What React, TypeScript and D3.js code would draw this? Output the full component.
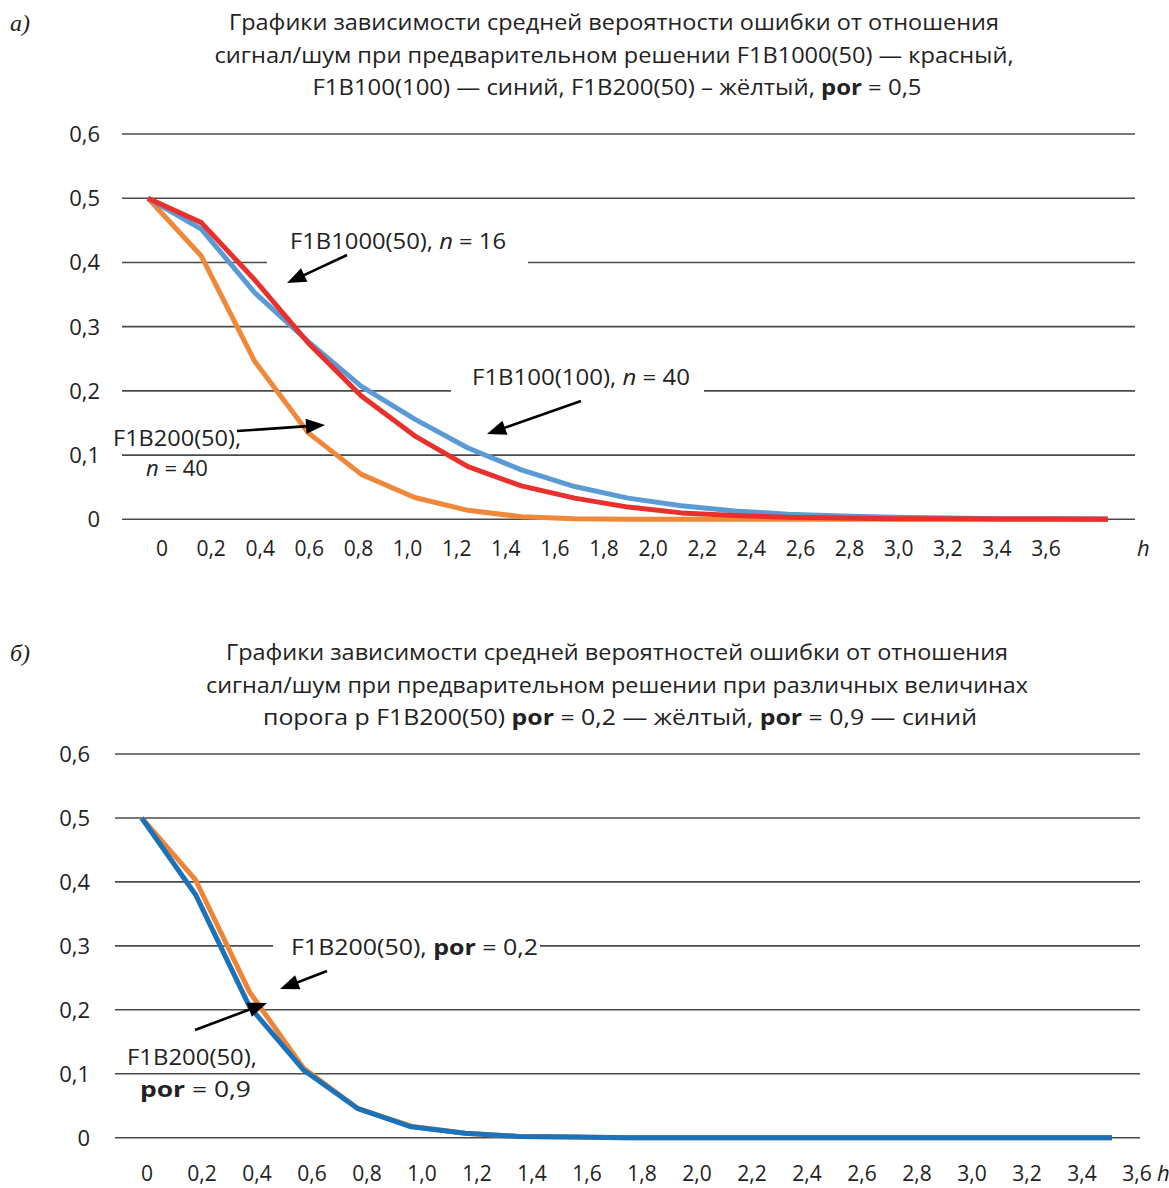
import * as d3 from "d3";

// h values (signal/noise) shared by both charts
const hValues = [0, 0.2, 0.4, 0.6, 0.8, 1.0, 1.2, 1.4, 1.6, 1.8, 2.0, 2.2, 2.4, 2.6, 2.8, 3.0, 3.2, 3.4, 3.6];
const hLabels = ["0", "0,2", "0,4", "0,6", "0,8", "1,0", "1,2", "1,4", "1,6", "1,8", "2,0", "2,2", "2,4", "2,6", "2,8", "3,0", "3,2", "3,4", "3,6"];
const yTicks = [0, 0.1, 0.2, 0.3, 0.4, 0.5, 0.6];
const yLabels = ["0", "0,1", "0,2", "0,3", "0,4", "0,5", "0,6"];

// chart a)
const f1b1000 = [0.5, 0.462, 0.373, 0.275, 0.192, 0.13, 0.082, 0.052, 0.033, 0.019, 0.01, 0.006, 0.003, 0.002, 0.001, 0.001, 0.0005, 0.0003, 0.0002];
const f1b100 = [0.5, 0.452, 0.353, 0.277, 0.207, 0.156, 0.111, 0.077, 0.051, 0.033, 0.021, 0.013, 0.008, 0.005, 0.003, 0.002, 0.001, 0.001, 0.0005];
const f1b200 = [0.5, 0.41, 0.246, 0.135, 0.07, 0.034, 0.014, 0.004, 0.001, 0, 0, 0, 0, 0, 0, 0, 0, 0, 0];

// chart б)
const por02 = [0.5, 0.403, 0.228, 0.109, 0.046, 0.018, 0.007, 0.002, 0.001, 0, 0, 0, 0, 0, 0, 0, 0, 0, 0];
const por09 = [0.5, 0.38, 0.205, 0.106, 0.046, 0.017, 0.007, 0.002, 0.001, 0, 0, 0, 0, 0, 0, 0, 0, 0, 0];

const FONT = "'Open Sans', 'Noto Sans', sans-serif";
const GRID = "#4a4a4a";

const Arrow = ({ x1, y1, x2, y2 }) => {
  const a = Math.atan2(y2 - y1, x2 - x1);
  const len = 19, w = 7.5;
  const bx = x2 - len * Math.cos(a), by = y2 - len * Math.sin(a);
  const px = -Math.sin(a) * w, py = Math.cos(a) * w;
  return (
    <g>
      <line x1={x1} y1={y1} x2={bx + 2 * Math.cos(a)} y2={by + 2 * Math.sin(a)} stroke="#000" strokeWidth={2.6} />
      <polygon points={`${x2},${y2} ${bx + px},${by + py} ${bx - px},${by - py}`} fill="#000" />
    </g>
  );
};

const Chart = ({ gridX0, gridX1, lineX0, lineX1, zeroY, maxY, labelX0, labelX1, labelY, yLabelRight, hX, series, gaps }) => {
  const x = d3.scaleLinear().domain([0, 3.6]).range([lineX0, lineX1]);
  const y = d3.scaleLinear().domain([0, 0.6]).range([zeroY, maxY]);
  const xl = d3.scalePoint().domain(hLabels).range([labelX0, labelX1]);
  const line = d3.line().x((d, i) => x(hValues[i])).y(d => y(d));
  return (
    <g>
      {yTicks.map((t, i) => (
        <g key={t}>
          <line x1={gridX0} x2={gridX1} y1={y(t)} y2={y(t)} stroke={GRID} strokeWidth={1.6} />
          <text x={yLabelRight} y={y(t) + 8} textAnchor="end" fontSize={22} fontFamily={FONT} fill="#222">{yLabels[i]}</text>
        </g>
      ))}
      {gaps.map((g, i) => (
        <rect key={i} x={g[0]} width={g[1] - g[0]} y={y(g[2]) - 4} height={8} fill="#fff" />
      ))}
      {series.map((s, i) => (
        <path key={i} d={line(s.values)} fill="none" stroke={s.color} strokeWidth={5} strokeLinejoin="round" />
      ))}
      {hLabels.map(l => (
        <text key={l} x={xl(l)} y={labelY} textAnchor="middle" fontSize={21} fontFamily={FONT} fill="#222">{l}</text>
      ))}
      <text x={hX} y={labelY} fontSize={22} fontStyle="italic" fontFamily={FONT} fill="#222">h</text>
    </g>
  );
};

export default function App() {
  return (
    <svg width={1169} height={1188} style={{ position: "absolute", left: 0, top: 0, background: "#fff" }}>
      <rect width={1169} height={1188} fill="#fff" />
      {/* chart a) */}
      <text x={10} y={31} fontSize={24} fontStyle="italic" fontFamily="'Liberation Serif', serif" fill="#222">а)</text>
      <g fontFamily={FONT} fontSize={22} fill="#222" textAnchor="middle">
        <text x={614} y={30} textLength={770} lengthAdjust="spacingAndGlyphs">Графики зависимости средней вероятности ошибки от отношения</text>
        <text x={614} y={63} textLength={799} lengthAdjust="spacingAndGlyphs">сигнал/шум при предварительном решении F1B1000(50) — красный,</text>
        <text x={617} y={95} textLength={609} lengthAdjust="spacingAndGlyphs">F1B100(100) — синий, F1B200(50) – жёлтый, <tspan fontWeight="bold">por</tspan> = 0,5</text>
      </g>
      <Chart
        gridX0={122} gridX1={1135} lineX0={148} lineX1={1108} zeroY={519.3} maxY={134}
        labelX0={162} labelX1={1046} labelY={556} yLabelRight={100} hX={1137}
        series={[
          { values: f1b200, color: "#f0883a" },
          { values: f1b100, color: "#5b9bd5" },
          { values: f1b1000, color: "#e9302d" },
        ]}
        gaps={[[267, 528, 0.4], [451, 704, 0.2]]}
      />
      <g fontFamily={FONT} fontSize={22} fill="#222">
        <text x={290} y={249} textLength={216} lengthAdjust="spacingAndGlyphs">F1B1000(50), <tspan fontStyle="italic">n</tspan> = 16</text>
        <text x={472} y={385} textLength={218} lengthAdjust="spacingAndGlyphs">F1B100(100), <tspan fontStyle="italic">n</tspan> = 40</text>
        <text x={113} y={446} textLength={128} lengthAdjust="spacingAndGlyphs">F1B200(50),</text>
        <text x={146} y={476}><tspan fontStyle="italic">n</tspan> = 40</text>
      </g>
      <Arrow x1={347} y1={255} x2={287} y2={283} />
      <Arrow x1={581} y1={401} x2={487} y2={434} />
      <Arrow x1={237} y1={431} x2={325} y2={425} />

      {/* chart б) */}
      <text x={10} y={661} fontSize={24} fontStyle="italic" fontFamily="'Liberation Serif', serif" fill="#222">б)</text>
      <g fontFamily={FONT} fontSize={22} fill="#222" textAnchor="middle" style={{ whiteSpace: "pre" }}>
        <text x={617} y={660} textLength={782} lengthAdjust="spacingAndGlyphs">Графики зависимости средней вероятностей ошибки от отношения</text>
        <text x={617} y={693} textLength={822} lengthAdjust="spacingAndGlyphs">сигнал/шум при предварительном решении при различных величинах</text>
        <text x={620} y={725} textLength={714} lengthAdjust="spacingAndGlyphs">{"порога  р F1B200(50) "}<tspan fontWeight="bold">por</tspan>{"  =  0,2 — жёлтый, "}<tspan fontWeight="bold">por</tspan>{"  =  0,9 — синий"}</text>
      </g>
      <Chart
        gridX0={115} gridX1={1140} lineX0={141.7} lineX1={1112} zeroY={1137.7} maxY={754}
        labelX0={147} labelX1={1137} labelY={1181} yLabelRight={90} hX={1157}
        series={[
          { values: por02, color: "#ee8536" },
          { values: por09, color: "#1a72ba" },
        ]}
        gaps={[[273, 540, 0.3]]}
      />
      <g fontFamily={FONT} fontSize={22} fill="#222" style={{ whiteSpace: "pre" }}>
        <text x={291} y={955} textLength={247} lengthAdjust="spacingAndGlyphs">{"F1B200(50), "}<tspan fontWeight="bold">por</tspan>{"  =  0,2"}</text>
        <text x={127} y={1065} textLength={130} lengthAdjust="spacingAndGlyphs">F1B200(50),</text>
        <text x={140} y={1097} textLength={111} lengthAdjust="spacingAndGlyphs"><tspan fontWeight="bold">por</tspan>{"  =  0,9"}</text>
      </g>
      <Arrow x1={327} y1={971} x2={280} y2={989} />
      <Arrow x1={195} y1={1030} x2={267} y2={1003} />
    </svg>
  );
}
